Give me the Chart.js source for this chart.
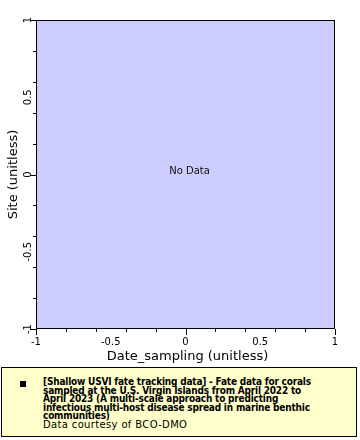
<!DOCTYPE html>
<html>
<head>
<meta charset="utf-8">
<script src="https://cdn.jsdelivr.net/npm/chart.js@4.4.0/dist/chart.umd.min.js"></script>
<style>
    html, body { margin: 0; padding: 0; background: #fff; }
    #wrap { position: relative; width: 360px; height: 440px; }
    #legend {
        position: absolute;
        left: 1px;
        top: 367px;
        width: 354px;
        height: 68px;
        background: #ffffcc;
        border: 1px solid #000;
    }
    #legend .marker {
        position: absolute;
        left: 18px;
        top: 13px;
        width: 6px;
        height: 6px;
        background: #000;
    }
    #legend .text {
        position: absolute;
        left: 41px;
        top: 10px;
        font-family: "DejaVu Sans Condensed", "DejaVu Sans", sans-serif;
        font-size: 10px;
        line-height: 8.6px;
        color: #000;
        white-space: nowrap;
    }
    #legend .title { font-weight: bold; letter-spacing: -0.2px; }
    #legend .credit { font-family: "DejaVu Sans", sans-serif; letter-spacing: 0.35px; }
</style>
</head>
<body>
<div id="wrap">
    <canvas id="chart" width="360" height="440"></canvas>
    <div id="legend">
        <div class="marker"></div>
        <div class="text">
            <div class="title">[Shallow USVI fate tracking data] - Fate data for corals<br>sampled at the U.S. Virgin Islands from April 2022 to<br>April 2023 (A multi-scale approach to predicting<br>infectious multi-host disease spread in marine benthic<br>communities)</div>
            <div class="credit">Data courtesy of BCO-DMO</div>
        </div>
    </div>
</div>
<script>
// No samples in this dataset
const dateSampling = [];
const site = [];

const xTickValues = [-1, -0.5, 0, 0.5, 1];
const xTickLabels = ['-1', '-0.5', '0', '0.5', '1'];
const yTickValues = [-1, -0.5, 0, 0.5, 1];
const yTickLabels = ['-1', '-0.5', '0', '0.5', '1'];

const xTitle = 'Date_sampling (unitless)';
const yTitle = 'Site (unitless)';
const emptyText = 'No Data';

const FONT = '"DejaVu Sans", sans-serif';

// Background, frame, tick marks and labels
const axesPlugin = {
    id: 'axesPlugin',
    beforeDatasetsDraw(chart) {
        const { ctx, chartArea: a } = chart;
        ctx.save();
        ctx.fillStyle = '#ccccff';
        ctx.fillRect(a.left, a.top, a.right - a.left, a.bottom - a.top);
        ctx.restore();
    },
    afterDraw(chart) {
        const { ctx, chartArea: a } = chart;
        const xs = chart.scales.x;
        const ys = chart.scales.y;
        const isMajor = v => Math.abs(v * 2 - Math.round(v * 2)) < 1e-6;

        ctx.save();
        ctx.strokeStyle = '#000';
        ctx.lineWidth = 1;
        ctx.strokeRect(a.left + 0.5, a.top + 0.5, a.right - a.left - 1, a.bottom - a.top - 1);

        // tick marks
        ctx.beginPath();
        xs.ticks.forEach(t => {
            const px = Math.round(xs.getPixelForValue(t.value)) + 0.5;
            const len = isMajor(t.value) ? 6 : 3;
            ctx.moveTo(px, a.bottom);
            ctx.lineTo(px, a.bottom + len);
        });
        ys.ticks.forEach(t => {
            const py = Math.round(ys.getPixelForValue(t.value)) + 0.5;
            const len = isMajor(t.value) ? 6 : 3;
            ctx.moveTo(a.left, py);
            ctx.lineTo(a.left - len, py);
        });
        ctx.stroke();

        // tick labels
        ctx.fillStyle = '#000';
        ctx.font = '10px ' + FONT;
        ctx.textAlign = 'center';
        ctx.textBaseline = 'alphabetic';
        xTickValues.forEach((v, i) => {
            ctx.fillText(xTickLabels[i], xs.getPixelForValue(v), a.bottom + 16);
        });
        yTickValues.forEach((v, i) => {
            ctx.save();
            ctx.translate(a.left - 5, ys.getPixelForValue(v));
            ctx.rotate(-Math.PI / 2);
            ctx.fillText(yTickLabels[i], 0, 0);
            ctx.restore();
        });

        // axis titles
        ctx.font = '13px ' + FONT;
        ctx.fillText(xTitle, (a.left + a.right) / 2 + 2, a.bottom + 31);
        ctx.save();
        ctx.translate(17, (a.top + a.bottom) / 2);
        ctx.rotate(-Math.PI / 2);
        ctx.fillText(yTitle, 0, 0);
        ctx.restore();

        // empty dataset notice
        if (dateSampling.length === 0) {
            ctx.font = '10px ' + FONT;
            ctx.fillStyle = '#111';
            ctx.textBaseline = 'middle';
            ctx.fillText(emptyText, (a.left + a.right) / 2 + 4, (a.top + a.bottom) / 2 - 3);
        }
        ctx.restore();
    }
};

new Chart(document.getElementById('chart'), {
    type: 'scatter',
    data: {
        datasets: [{
            data: dateSampling.map((d, i) => ({ x: d, y: site[i] })),
            backgroundColor: '#000',
            pointRadius: 3
        }]
    },
    options: {
        responsive: false,
        animation: false,
        layout: { padding: { left: 36, top: 20, right: 25, bottom: 111 } },
        plugins: { legend: { display: false }, tooltip: { enabled: false } },
        scales: {
            x: { type: 'linear', min: -1, max: 1, display: false, ticks: { stepSize: 0.1 } },
            y: { type: 'linear', min: -1, max: 1, display: false, ticks: { stepSize: 0.1 } }
        }
    },
    plugins: [axesPlugin]
});
</script>
</body>
</html>
